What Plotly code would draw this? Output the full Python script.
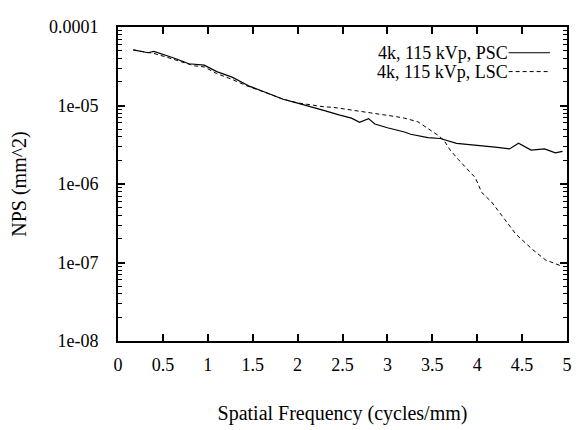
import plotly.graph_objects as go

freq_psc = [0.17, 0.25, 0.335, 0.40, 0.50, 0.63, 0.79, 0.96, 1.10, 1.27, 1.47, 1.65, 1.84, 2.00, 2.13,
            2.30, 2.46, 2.60, 2.69, 2.79, 2.86, 3.00, 3.19, 3.26, 3.45, 3.59, 3.77, 3.90, 4.03, 4.20,
            4.36, 4.46, 4.60, 4.75, 4.87, 4.95]
nps_psc = [5.1e-5, 4.9e-5, 4.7e-5, 4.9e-5, 4.5e-5, 4.0e-5, 3.4e-5, 3.27e-5, 2.7e-5, 2.3e-5, 1.75e-5,
           1.45e-5, 1.2e-5, 1.07e-5, 9.8e-6, 8.6e-6, 7.6e-6, 6.9e-6, 6.1e-6, 6.8e-6, 5.8e-6, 5.2e-6,
           4.6e-6, 4.3e-6, 3.9e-6, 3.8e-6, 3.3e-6, 3.2e-6, 3.05e-6, 2.95e-6, 2.8e-6, 3.3e-6, 2.7e-6,
           2.8e-6, 2.5e-6, 2.6e-6]

freq_lsc = [0.17, 0.30, 0.40, 0.55, 0.70, 0.85, 0.96, 1.10, 1.27, 1.45, 1.65, 1.84, 2.00, 2.13, 2.30,
            2.39, 2.53, 2.71, 2.93, 3.10, 3.19, 3.34, 3.45, 3.56, 3.63, 3.70, 3.79, 3.88, 3.98, 4.05,
            4.16, 4.31, 4.43, 4.62, 4.76, 4.95]
nps_lsc = [5.1e-5, 4.8e-5, 4.6e-5, 4.1e-5, 3.6e-5, 3.2e-5, 3.1e-5, 2.55e-5, 2.15e-5, 1.75e-5, 1.45e-5,
           1.2e-5, 1.08e-5, 1.02e-5, 9.6e-6, 9.5e-6, 9.0e-6, 8.5e-6, 7.8e-6, 7.2e-6, 6.9e-6, 6.2e-6,
           5.1e-6, 4.2e-6, 3.6e-6, 2.7e-6, 2.05e-6, 1.6e-6, 1.2e-6, 7.8e-7, 5.9e-7, 3.5e-7, 2.3e-7,
           1.45e-7, 1.08e-7, 8.9e-8]

series_names = ["4k, 115 kVp, PSC", "4k, 115 kVp, LSC"]
x_ticks = [0, 0.5, 1, 1.5, 2, 2.5, 3, 3.5, 4, 4.5, 5]
x_ticklabels = ["0", "0.5", "1", "1.5", "2", "2.5", "3", "3.5", "4", "4.5", "5"]
y_ticks = [1e-8, 1e-7, 1e-6, 1e-5, 1e-4]
y_ticklabels = ["1e-08", "1e-07", "1e-06", "1e-05", "0.0001"]
y_minor = [m * d for d in [1e-8, 1e-7, 1e-6, 1e-5] for m in range(2, 10)]

FONT = "Liberation Serif"

fig = go.Figure()
fig.add_trace(go.Scatter(x=freq_psc, y=nps_psc, mode="lines", name=series_names[0],
                         line=dict(color="black", width=1.2)))
fig.add_trace(go.Scatter(x=freq_lsc, y=nps_lsc, mode="lines", name=series_names[1],
                         line=dict(color="black", width=1, dash="4px,3px")))

# legend drawn as text + sample line on the right (gnuplot style)
for i, (name, dash) in enumerate(zip(series_names, ["solid", "4px,3px"])):
    ypos = 0.918 - i * 0.06
    fig.add_annotation(xref="paper", yref="paper", x=0.872, y=ypos, text=name,
                       showarrow=False, xanchor="right", yanchor="middle",
                       font=dict(family=FONT, size=18, color="black"))
    fig.add_shape(type="line", xref="paper", yref="paper", x0=0.870, x1=0.962, y0=ypos, y1=ypos,
                  line=dict(color="black", width=1, dash=dash))

fig.update_layout(
    width=573, height=422,
    margin=dict(l=109, r=9, t=10, b=89),
    paper_bgcolor="white", plot_bgcolor="white",
    showlegend=False,
    font=dict(family=FONT, size=18, color="black"),
    xaxis=dict(range=[0, 5], tickmode="array", tickvals=x_ticks, ticktext=x_ticklabels,
               ticks="inside", ticklen=7, tickwidth=1.5, tickcolor="black",
               showline=True, linecolor="black", linewidth=2, mirror="allticks",
               showgrid=False, zeroline=False, ticklabelstandoff=6,
               tickfont=dict(family=FONT, size=18),
               title=dict(text="Spatial Frequency (cycles/mm)", standoff=32,
                          font=dict(family=FONT, size=20))),
    yaxis=dict(type="log", range=[-8, -4], tickmode="array", tickvals=y_ticks, ticktext=y_ticklabels,
               ticks="inside", ticklen=7, tickwidth=1.5, tickcolor="black",
               showline=True, linecolor="black", linewidth=2, mirror="allticks",
               showgrid=False, zeroline=False, ticklabelstandoff=14,
               tickfont=dict(family=FONT, size=18),
               minor=dict(tickmode="array", tickvals=y_minor, ticks="inside", ticklen=4,
                          tickwidth=1, tickcolor="black", showgrid=False),
               title=dict(text="NPS (mm^2)", standoff=18,
                          font=dict(family=FONT, size=20))),
)

fig.write_html("out.html")
